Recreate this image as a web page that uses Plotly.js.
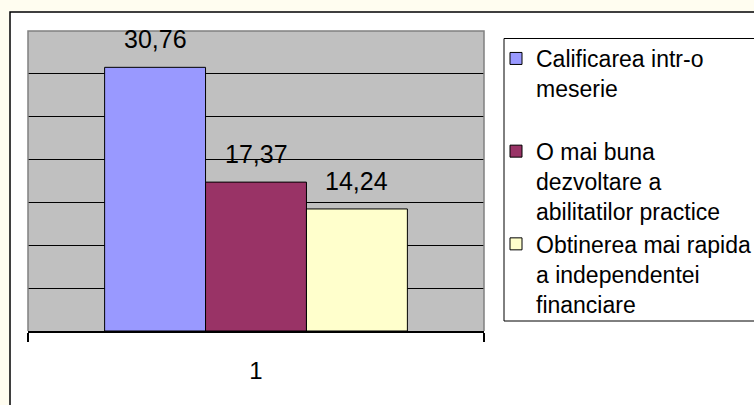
<!DOCTYPE html>
<html>
<head>
<meta charset="utf-8">
<script src="https://cdn.plot.ly/plotly-3.0.1.min.js"></script>
<style>
  html, body { margin: 0; padding: 0; background: #ffffff; }
  #chart { width: 754px; height: 405px; }
</style>
</head>
<body>
<div id="chart"></div>
<script>
// ---- data ----
const categories = ['1'];
const seriesNames = [
  'Calificarea intr-o<br>meserie<br>\u00a0',
  'O mai buna<br>dezvoltare a<br>abilitatilor practice',
  'Obtinerea mai rapida<br>a independentei<br>financiare'
];
const seriesValues = [30.76, 17.37, 14.24];
const seriesColors = ['#9999FF', '#993366', '#FFFFCC'];
const gridValues = [5, 10, 15, 20, 25, 30];

// ---- layout constants ----
const FONT = 'Liberation Sans, Arial, sans-serif';
const W = 754, H = 405;
const M = { l: 28, r: 270, t: 31, b: 74 };
const PW = W - M.l - M.r, PH = H - M.t - M.b;
const BARGAP = 0.336;
const px2x = p => (p - M.l) / PW;
const px2y = p => 1 - (p - M.t) / PH;

const traces = seriesValues.map((v, i) => ({
  type: 'bar',
  x: categories,
  y: [v],
  name: seriesNames[i],
  marker: { color: seriesColors[i], line: { color: '#000000', width: 1 } },
  hoverinfo: 'skip'
}));

const barW = (1 - BARGAP) / seriesValues.length;
const annotations = seriesValues.map((v, i) => ({
  xref: 'x', yref: 'y',
  x: (i - (seriesValues.length - 1) / 2) * barW,
  y: v,
  text: v.toFixed(2).replace('.', ','),
  showarrow: false,
  yanchor: 'middle',
  yshift: 28,
  font: { family: FONT, size: 25, color: '#000000' }
}));

const shapes = [
  // pale strips outside the chart frame (page background)
  { type: 'rect', xref: 'paper', yref: 'paper', layer: 'below',
    x0: px2x(0), x1: px2x(760), y0: px2y(0), y1: px2y(11.3),
    fillcolor: '#fffdf0', line: { width: 0 } },
  { type: 'rect', xref: 'paper', yref: 'paper', layer: 'below',
    x0: px2x(0), x1: px2x(9.3), y0: px2y(410), y1: px2y(0),
    fillcolor: '#fffdf0', line: { width: 0 } },
  // outer chart frame
  { type: 'rect', xref: 'paper', yref: 'paper', layer: 'below',
    x0: px2x(10), x1: px2x(770), y0: px2y(420), y1: px2y(12),
    line: { color: '#000000', width: 1.5 } },
  // plot area grey border (left, top, right)
  { type: 'path', xref: 'paper', yref: 'paper', layer: 'above',
    path: 'M0,0 L0,1 L1,1 L1,0', line: { color: '#808080', width: 1.5 } },
  // legend box
  { type: 'rect', xref: 'paper', yref: 'paper', layer: 'below',
    x0: px2x(504), x1: px2x(780), y0: px2y(321), y1: px2y(38.5),
    line: { color: '#000000', width: 1 } }
];

const layout = {
  width: W, height: H,
  margin: { l: M.l, r: M.r, t: M.t, b: M.b, autoexpand: false },
  paper_bgcolor: '#ffffff',
  plot_bgcolor: '#C0C0C0',
  barmode: 'group',
  bargap: BARGAP,
  bargroupgap: 0,
  showlegend: true,
  legend: {
    x: px2x(496), xanchor: 'left',
    y: px2y(37), yanchor: 'top',
    bgcolor: 'rgba(0,0,0,0)',
    borderwidth: 0,
    valign: 'top',
    itemwidth: 30,
    tracegroupgap: 0,
    font: { family: FONT, size: 23, color: '#000000' }
  },
  xaxis: {
    type: 'category',
    showgrid: false,
    zeroline: false,
    showline: true, linecolor: '#000000', linewidth: 1.5,
    ticks: 'outside', tickson: 'boundaries', ticklen: 9, tickcolor: '#000000', tickwidth: 1.5,
    ticklabelstandoff: 18,
    tickfont: { family: FONT, size: 24, color: '#000000' },
    fixedrange: true
  },
  yaxis: {
    range: [0, 35],
    tickmode: 'array',
    tickvals: gridValues,
    showticklabels: false,
    ticks: '',
    showgrid: true, gridcolor: '#000000', gridwidth: 1.2,
    zeroline: false,
    showline: false,
    fixedrange: true
  },
  annotations: annotations,
  shapes: shapes
};

Plotly.newPlot('chart', traces, layout, { displayModeBar: false, staticPlot: true });
</script>
</body>
</html>
